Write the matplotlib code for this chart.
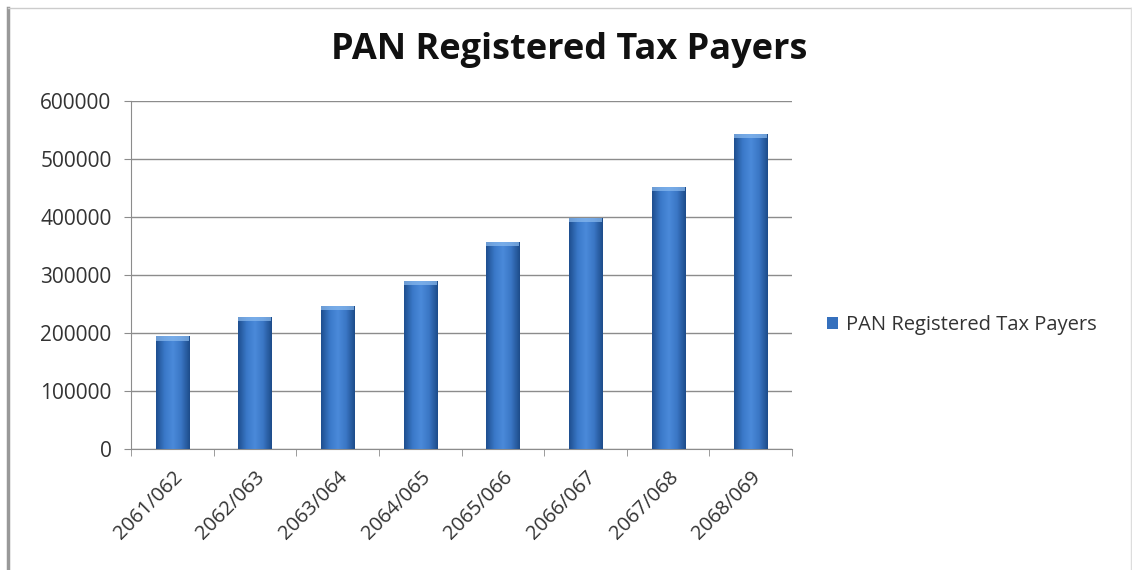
import numpy as np
import matplotlib.pyplot as plt
from matplotlib.colors import LinearSegmentedColormap
from matplotlib.patches import Rectangle

years = ['2061/062', '2062/063', '2063/064', '2064/065',
         '2065/066', '2066/067', '2067/068', '2068/069']
taxpayers = [194000, 227000, 246000, 290000, 357000, 398000, 451000, 543000]

plt.rcParams['font.family'] = ['Open Sans', 'DejaVu Sans']

fig = plt.figure(figsize=(11.32, 5.70), dpi=100)
ax = fig.add_axes([0.1157, 0.2123, 0.584, 0.6105])

x = np.arange(len(years))
bars = ax.bar(x, taxpayers, width=0.4, color='#3570BD', zorder=2,
              label='PAN Registered Tax Payers')

# shaded look on each bar
cmap = LinearSegmentedColormap.from_list(
    'barshade', ['#1E4F8F', '#3A78C8', '#4B8ADA', '#3A76C4', '#1D4C8A'])
grad = np.linspace(0, 1, 64).reshape(1, -1)
for b in bars:
    x0, w, h = b.get_x(), b.get_width(), b.get_height()
    im = ax.imshow(grad, cmap=cmap, aspect='auto', zorder=3,
                   extent=(x0, x0 + w, 0, h), interpolation='bicubic')
    im.set_clip_path(b)
    ax.add_patch(Rectangle((x0, h - 7000), w, 7000, color='#8CBCF0',
                           alpha=0.7, zorder=4, linewidth=0))

ax.set_xlim(-0.5, len(years) - 0.5)
ax.set_ylim(0, 600000)
ax.set_yticks(range(0, 600001, 100000))
ax.yaxis.grid(True, color='#8C8C8C', linewidth=1, zorder=0)
ax.set_axisbelow(True)

ax.set_xticks(x)
ax.set_xticklabels(years, rotation=45, ha='right', rotation_mode='anchor',
                   fontsize=14.5, color='#333333')
ax.set_xticks(np.arange(-0.5, len(years)), minor=True)
ax.tick_params(axis='x', which='major', length=0, pad=13)
ax.tick_params(axis='x', which='minor', length=5, color='#8C8C8C')
ax.tick_params(axis='y', length=5, color='#8C8C8C', labelsize=15,
               labelcolor='#333333', pad=9)

for s in ['top', 'right']:
    ax.spines[s].set_visible(False)
for s in ['left', 'bottom']:
    ax.spines[s].set_color('#8C8C8C')

fig.text(0.503, 0.912, 'PAN Registered Tax Payers', ha='center', va='center',
         fontsize=26, fontweight='bold', color='#111111')

leg = ax.legend(loc='center left', bbox_to_anchor=(1.025, 0.356), frameon=False,
                fontsize=14.5, handlelength=0.55, handleheight=0.55,
                handletextpad=0.4, labelcolor='#333333')

# outer frame
fig.add_artist(plt.Line2D([0.0071, 0.0071], [0, 0.986], color='#999999', lw=2.5))
fig.add_artist(plt.Line2D([0.0071, 1], [0.986, 0.986], color='#CCCCCC', lw=1))
fig.add_artist(plt.Line2D([0.999, 0.999], [0, 0.986], color='#DDDDDD', lw=1))

fig.savefig('out.png', dpi=100)
